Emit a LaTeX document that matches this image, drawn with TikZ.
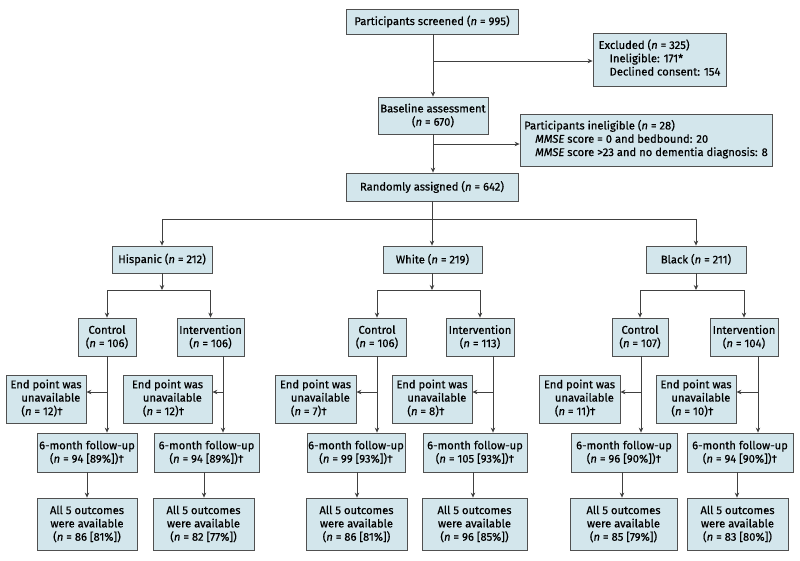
\documentclass[tikz,border=0pt]{standalone}
\usepackage{fontspec}
\setmainfont{Fira Sans}[FakeBold=0.5]
\usetikzlibrary{arrows.meta}
\definecolor{boxfill}{HTML}{D3E6EC}
\definecolor{boxline}{HTML}{505050}
\definecolor{lineclr}{HTML}{404040}
\newcommand{\nn}{\textit{n}}
\newcommand{\ind}{\hspace*{11pt}}
\newcommand{\threel}[3]{\begin{tabular}{@{}l@{}}#1\\\ind #2\\\ind #3\end{tabular}}
\renewcommand{\arraystretch}{1}
\begin{document}
\begin{tikzpicture}[x=1pt,y=-1pt,
  box/.style={draw=boxline,fill=boxfill,line width=0.8pt,inner sep=0pt,
    font=\fontsize{11.2}{13.3}\selectfont,align=center},
  lbox/.style={box},
  arr/.style={draw=lineclr,line width=0.8pt,-{Stealth[length=5pt,width=4.5pt]}},
  ln/.style={draw=lineclr,line width=0.8pt}]
\useasboundingbox (0,0) rectangle (800,560);
% top
\node[box,minimum width=172pt,minimum height=25pt] (scr) at (432,21.5) {Participants screened (\nn{} = 995)};
\node[lbox,minimum width=133pt,minimum height=53pt] (exc) at (659.5,59.5) {\threel{Excluded (\nn{} = 325)}{Ineligible: 171*}{Declined consent: 154}};
\node[box,minimum width=110pt,minimum height=37pt] (base) at (433,115.5) {Baseline assessment\\(\nn{} = 670)};
\node[lbox,minimum width=252pt,minimum height=52pt] (inel) at (646,140) {\threel{Participants ineligible (\nn{} = 28)}{\textit{MMSE} score = 0 and bedbound: 20}{\textit{MMSE} score >23 and no dementia diagnosis: 8}};
\node[box,minimum width=172pt,minimum height=28pt] (rand) at (432,187) {Randomly assigned (\nn{} = 642)};
% groups
\node[box,minimum width=100pt,minimum height=27pt] (hisp) at (162,259.5) {Hispanic (\nn{} = 212)};
\node[box,minimum width=99pt,minimum height=27pt] (white) at (432.5,259.5) {White (\nn{} = 219)};
\node[box,minimum width=100pt,minimum height=27pt] (black) at (696,259.5) {Black (\nn{} = 211)};
% arms
\node[box,minimum width=58pt,minimum height=38pt] (hc) at (107,337) {Control\\(\nn{} = 106)};
\node[box,minimum width=67pt,minimum height=38pt] (hi) at (210.5,337) {Intervention\\(\nn{} = 106)};
\node[box,minimum width=58pt,minimum height=38pt] (wc) at (377,337) {Control\\(\nn{} = 106)};
\node[box,minimum width=68pt,minimum height=38pt] (wi) at (480,337) {Intervention\\(\nn{} = 113)};
\node[box,minimum width=56pt,minimum height=38pt] (bc) at (640,337) {Control\\(\nn{} = 107)};
\node[box,minimum width=68pt,minimum height=38pt] (bi) at (744,337) {Intervention\\(\nn{} = 104)};
% end point boxes
\node[lbox,minimum width=80pt,minimum height=48pt] (he1) at (46,399) {\threel{End point was}{unavailable}{(\nn{} = 12)†}};
\node[lbox,minimum width=89pt,minimum height=48pt] (he2) at (167.5,399) {\threel{End point was}{unavailable}{(\nn{} = 12)†}};
\node[lbox,minimum width=81pt,minimum height=48pt] (we1) at (315.5,399) {\threel{End point was}{unavailable}{(\nn{} = 7)†}};
\node[lbox,minimum width=80pt,minimum height=48pt] (we2) at (432,399) {\threel{End point was}{unavailable}{(\nn{} = 8)†}};
\node[lbox,minimum width=81pt,minimum height=48pt] (be1) at (579.5,399) {\threel{End point was}{unavailable}{(\nn{} = 11)†}};
\node[lbox,minimum width=80pt,minimum height=48pt] (be2) at (696,399) {\threel{End point was}{unavailable}{(\nn{} = 10)†}};
% follow-up
\node[box,minimum width=100pt,minimum height=39pt] (hf1) at (87,452.5) {6-month follow-up\\(\nn{} = 94 [89\%])†};
\node[box,minimum width=105pt,minimum height=39pt] (hf2) at (206.5,452.5) {6-month follow-up\\(\nn{} = 94 [89\%])†};
\node[box,minimum width=98pt,minimum height=39pt] (wf1) at (356,452.5) {6-month follow-up\\(\nn{} = 99 [93\%])†};
\node[box,minimum width=104pt,minimum height=39pt] (wf2) at (475,452.5) {6-month follow-up\\(\nn{} = 105 [93\%])†};
\node[box,minimum width=106pt,minimum height=39pt] (bf1) at (624,452.5) {6-month follow-up\\(\nn{} = 96 [90\%])†};
\node[box,minimum width=106pt,minimum height=39pt] (bf2) at (740,452.5) {6-month follow-up\\(\nn{} = 94 [90\%])†};
% outcomes
\node[box,minimum width=100pt,minimum height=52pt] (ho1) at (87,524) {All 5 outcomes\\were available\\(\nn{} = 86 [81\%])};
\node[box,minimum width=101pt,minimum height=52pt] (ho2) at (203.5,524) {All 5 outcomes\\were available\\(\nn{} = 82 [77\%])};
\node[box,minimum width=101pt,minimum height=52pt] (wo1) at (356.5,524) {All 5 outcomes\\were available\\(\nn{} = 86 [81\%])};
\node[box,minimum width=105pt,minimum height=52pt] (wo2) at (474.5,524) {All 5 outcomes\\were available\\(\nn{} = 96 [85\%])};
\node[box,minimum width=107pt,minimum height=52pt] (bo1) at (623.5,524) {All 5 outcomes\\were available\\(\nn{} = 85 [79\%])};
\node[box,minimum width=101pt,minimum height=52pt] (bo2) at (737.5,524) {All 5 outcomes\\were available\\(\nn{} = 83 [80\%])};
% top connectors
\coordinate (j1) at (433,61);
\coordinate (j2) at (433,144);
\draw[arr] (scr.south -| j1) -- (base.north -| j1);
\draw[arr] (j1) -- (exc.west |- j1);
\draw[arr] (base.south -| j2) -- (rand.north -| j2);
\draw[arr] (j2) -- (inel.west |- j2);
% randomisation split
\coordinate (r) at (432,219);
\draw[ln] (rand.south) -- (r);
\draw[arr] (r) -| (hisp.north);
\draw[arr] (r) -| (black.north);
\draw[arr] (r) -- (white.north -| r);
% group splits
\coordinate (hs) at (162,290);
\coordinate (ws) at (432,290);
\coordinate (bs) at (696,290);
\draw[arr] (hisp.south) -- (hs);
\draw[arr] (white.south -| ws) -- (ws);
\draw[arr] (black.south) -- (bs);
\draw[arr] (hs) -| (hc.north);
\draw[arr] (hs) -| (hi.north);
\draw[arr] (ws) -| (wc.north);
\draw[arr] (ws) -| (wi.north);
\draw[arr] (bs) -| (bc.north);
\draw[arr] (bs) -| (bi.north);
% arm verticals
\coordinate (hcx) at (107,392);
\coordinate (hix) at (223,392);
\coordinate (wcx) at (377,392);
\coordinate (wix) at (493,392);
\coordinate (bcx) at (641,392);
\coordinate (bix) at (758,392);
\draw[arr] (hc.south -| hcx) -- (hf1.north -| hcx);
\draw[arr] (hi.south -| hix) -- (hf2.north -| hix);
\draw[arr] (wc.south -| wcx) -- (wf1.north -| wcx);
\draw[arr] (wi.south -| wix) -- (wf2.north -| wix);
\draw[arr] (bc.south -| bcx) -- (bf1.north -| bcx);
\draw[arr] (bi.south -| bix) -- (bf2.north -| bix);
\draw[arr] (hcx) -- (he1.east |- hcx);
\draw[arr] (hix) -- (he2.east |- hix);
\draw[arr] (wcx) -- (we1.east |- wcx);
\draw[arr] (wix) -- (we2.east |- wix);
\draw[arr] (bcx) -- (be1.east |- bcx);
\draw[arr] (bix) -- (be2.east |- bix);
% follow-up to outcomes
\coordinate (o1) at (87,480);
\coordinate (o2) at (204,480);
\coordinate (o3) at (357,480);
\coordinate (o4) at (473,480);
\coordinate (o5) at (622,480);
\coordinate (o6) at (737,480);
\draw[arr] (hf1.south -| o1) -- (ho1.north -| o1);
\draw[arr] (hf2.south -| o2) -- (ho2.north -| o2);
\draw[arr] (wf1.south -| o3) -- (wo1.north -| o3);
\draw[arr] (wf2.south -| o4) -- (wo2.north -| o4);
\draw[arr] (bf1.south -| o5) -- (bo1.north -| o5);
\draw[arr] (bf2.south -| o6) -- (bo2.north -| o6);
\end{tikzpicture}
\end{document}
